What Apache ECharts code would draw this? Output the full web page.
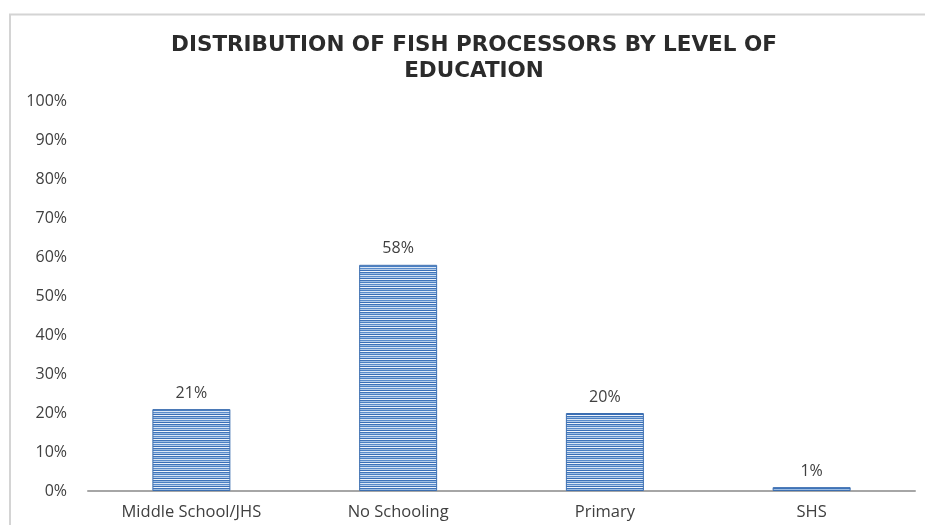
<!DOCTYPE html>
<html>
<head>
<meta charset="utf-8">
<script src="https://cdn.jsdelivr.net/npm/echarts@6/dist/echarts.min.js"></script>
<style>
  html, body { margin: 0; padding: 0; background: #fff; }
  #chart { width: 925px; height: 525px; }
</style>
</head>
<body>
<div id="chart"></div>
<script>
const categories = ['Middle School/JHS', 'No Schooling', 'Primary', 'SHS']
const shares = [21, 58, 20, 1]
const yTicks = [0, 10, 20, 30, 40, 50, 60, 70, 80, 90, 100]

// striped fill like the original (horizontal blue lines)
const makeStripes = () => {
  const c = document.createElement('canvas')
  const rows = ['#3f74ba', '#9dbde3', '#4a7fc2', '#dbe7f5', '#5a8ccb', '#b5cdea', '#3a6fb6', '#eef4fb']
  c.width = 4
  c.height = rows.length
  const ctx = c.getContext('2d')
  rows.forEach((col, i) => {
    ctx.fillStyle = col
    ctx.fillRect(0, i, 4, 1)
  })
  return c
}

const myChart = echarts.init(document.getElementById('chart'))
const option = {
  backgroundColor: '#fff',
  animation: false,
  title: {
    text: 'DISTRIBUTION OF FISH PROCESSORS BY LEVEL OF\nEDUCATION',
    left: 469,
    top: 27,
    textAlign: 'center',
    textStyle: {
      fontFamily: 'DejaVu Sans',
      fontWeight: 'bold',
      fontSize: 21.5,
      lineHeight: 26,
      color: '#2b2b2b'
    }
  },
  graphic: [
    {
      type: 'polyline',
      shape: { points: [[10, 525], [10, 14.5], [925, 14.5]] },
      style: { stroke: '#d4d4d4', lineWidth: 2, fill: null },
      silent: true
    }
  ],
  grid: {
    left: 88,
    right: 10,
    top: 101,
    bottom: 34,
    containLabel: false
  },
  xAxis: {
    type: 'category',
    data: categories,
    axisTick: { show: false },
    axisLine: { lineStyle: { color: '#a6a6a6', width: 2 } },
    axisLabel: {
      color: '#404040',
      fontFamily: 'Open Sans',
      fontSize: 16.5,
      margin: 13
    }
  },
  yAxis: {
    type: 'value',
    min: 0,
    max: 100,
    interval: 10,
    axisLine: { show: false },
    axisTick: { show: false },
    splitLine: { show: false },
    axisLabel: {
      color: '#404040',
      fontFamily: 'Open Sans',
      fontSize: 16,
      margin: 21,
      formatter: (v) => (yTicks.indexOf(v) >= 0 ? v + '%' : '')
    }
  },
  series: [
    {
      type: 'bar',
      data: shares,
      barWidth: 78,
      itemStyle: {
        color: { image: makeStripes(), repeat: 'repeat' },
        borderColor: '#3d6fb0',
        borderWidth: 1
      },
      label: {
        show: true,
        position: 'top',
        distance: 8,
        color: '#404040',
        fontFamily: 'Open Sans',
        fontSize: 16,
        formatter: (p) => p.value + '%'
      }
    }
  ]
}
myChart.setOption(option)
</script>
</body>
</html>
